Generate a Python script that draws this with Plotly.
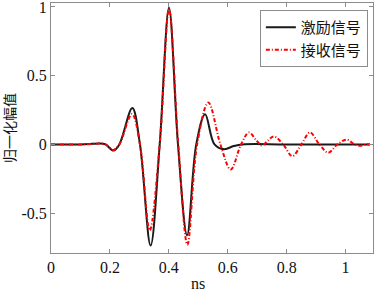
import plotly.graph_objects as go

# excitation signal (black) sample points: time in ns, normalized amplitude
t_exc = [0.0, 0.10, 0.14, 0.165, 0.185, 0.212, 0.232, 0.276, 0.302, 0.338, 0.369,
         0.4005, 0.431, 0.462, 0.493, 0.523, 0.555, 0.588, 0.62, 0.65, 0.80, 1.083]
v_exc = [0.0, 0.0, 0.004, 0.007, 0.0, -0.045, 0.0, 0.265, 0.0, -0.735, 0.0,
         0.995, 0.0, -0.66, 0.0, 0.22, 0.0, -0.035, -0.012, 0.0, 0.0, 0.0]

# received signal (red dash-dot)
t_rec = [0.0, 0.10, 0.14, 0.165, 0.185, 0.212, 0.232, 0.275, 0.302, 0.335, 0.369,
         0.4005, 0.432, 0.463, 0.496, 0.534, 0.575, 0.610, 0.645, 0.672, 0.697,
         0.716, 0.737, 0.757, 0.788, 0.819, 0.850, 0.879, 0.911, 0.941, 0.972,
         1.004, 1.030, 1.050, 1.070, 1.083]
v_rec = [0.0, 0.0, 0.004, 0.006, 0.0, -0.04, 0.0, 0.222, 0.0, -0.625, 0.0,
         0.985, 0.0, -0.73, 0.0, 0.305, 0.0, -0.182, 0.0, 0.087, 0.03,
         -0.008, 0.03, 0.058, 0.0, -0.085, 0.0, 0.087, 0.0, -0.06, 0.0,
         0.035, 0.0, -0.01, 0.0, 0.0]

x_ticks = [0, 0.2, 0.4, 0.6, 0.8, 1]
x_tick_text = ["0", "0.2", "0.4", "0.6", "0.8", "1"]
y_ticks = [-0.5, 0, 0.5, 1]
y_tick_text = ["-0.5", "0", "0.5", "1"]

names = ["激励信号", "接收信号"]
x_title = "ns"
y_title = "归一化幅值"

fig = go.Figure()
fig.add_trace(go.Scatter(x=t_exc, y=v_exc, mode="lines", name=names[0],
                         line=dict(color="#1a1a1a", width=2, shape="spline", smoothing=1.0)))
fig.add_trace(go.Scatter(x=t_rec, y=v_rec, mode="lines", name=names[1],
                         line=dict(color="#ff0000", width=2, dash="4px,2px,1px,2px",
                                   shape="spline", smoothing=1.0)))

font_main = "Times New Roman, Liberation Serif, serif"
axis_common = dict(showline=True, linecolor="#8c8c8c", linewidth=1, mirror="ticks",
                   ticks="inside", ticklen=4, tickcolor="#8c8c8c", showgrid=False,
                   zeroline=False, automargin=False, ticklabeloverflow="allow",
                   tickfont=dict(family=font_main, size=16, color="#111"))

fig.update_layout(
    width=377, height=291,
    margin=dict(l=51, r=4, t=3, b=38),
    plot_bgcolor="white", paper_bgcolor="white",
    font=dict(family=font_main),
    xaxis=dict(range=[0, 1.093], tickvals=x_ticks, ticktext=x_tick_text, **axis_common),
    yaxis=dict(range=[-0.79, 1.029], tickvals=y_ticks, ticktext=y_tick_text, **axis_common),
    legend=dict(x=0.984, y=0.972, xanchor="right", yanchor="top",
                bordercolor="#8c8c8c", borderwidth=1, bgcolor="white",
                font=dict(family="Times New Roman, Noto Sans CJK SC, serif", size=15, color="#111"),
                tracegroupgap=0, itemwidth=30),
    showlegend=True,
    annotations=[
        dict(text=x_title, xref="paper", yref="paper", x=0.455, y=0, yshift=-20,
             xanchor="center", yanchor="top", showarrow=False,
             font=dict(family=font_main, size=16, color="#111")),
        dict(text=y_title, xref="paper", yref="paper", x=0, xshift=-42, y=0.5,
             xanchor="center", yanchor="middle", textangle=-90, showarrow=False,
             font=dict(family="Noto Sans CJK SC", size=14, color="#111")),
    ],
)

fig.write_html("out.html", config={"displayModeBar": False},
               post_script="document.body.style.margin='0';document.body.style.overflow='hidden';")
